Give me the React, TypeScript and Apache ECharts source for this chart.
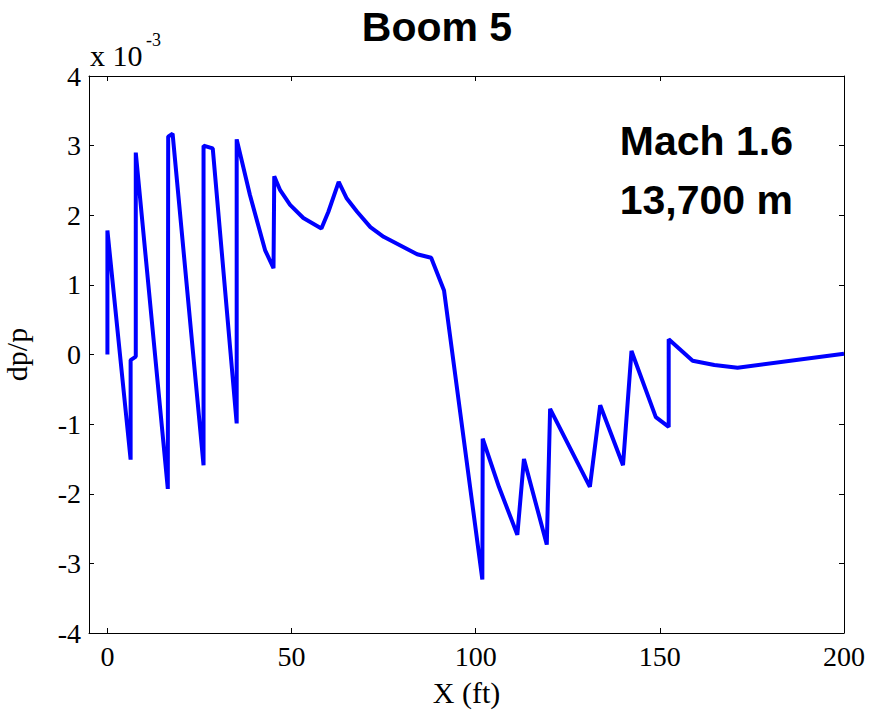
import React, { useEffect, useRef } from "react";
import * as echarts from "echarts";

// x position (ft) and dp/p (in units of 1e-3)
const xFt = [
  0, 0, 6.3, 6.3, 7.7, 7.7, 16.4, 16.5, 17.7, 26.1, 26.1, 28.6, 35.1, 35.1, 38.7, 42.8,
  45.1, 45.3, 46.9, 49.6, 53.2, 58.1, 60.0, 62.8, 65.0, 67.8, 71.4, 75.0, 84.1, 87.9,
  91.4, 101.8, 101.9, 106.3, 111.3, 113.1, 119.3, 120.2, 131.0, 133.8, 140.0, 142.3,
  148.9, 152.4, 152.4, 158.9, 164.8, 171.1, 200,
];
const dpp = [
  0, 1.78, -1.51, -0.08, -0.03, 2.9, -1.93, 3.13, 3.17, -1.59, 3.0, 2.96, -0.99, 3.09,
  2.29, 1.5, 1.24, 2.56, 2.36, 2.15, 1.96, 1.81, 2.05, 2.48, 2.24, 2.05, 1.83, 1.69, 1.44,
  1.39, 0.92, -3.23, -1.21, -1.9, -2.59, -1.5, -2.73, -0.78, -1.9, -0.73, -1.59, 0.05,
  -0.9, -1.04, 0.22, -0.09, -0.15, -0.19, 0.01,
];
const xTicks = [0, 50, 100, 150, 200];
const titleText = "Boom 5";
const noteLines = ["Mach 1.6", "13,700 m"];

const SERIF = "'Liberation Serif', 'Times New Roman', serif";
const SANS = "'Liberation Sans', Arial, sans-serif";

export default function App() {
  const ref = useRef<HTMLDivElement>(null);
  useEffect(() => {
    document.body.style.margin = "0";
    if (!ref.current) return;
    const chart = echarts.init(ref.current, undefined, { renderer: "svg" });
    const axisLine = { show: true, onZero: false, lineStyle: { color: "#000", width: 1 } };
    const tick = { show: true, inside: true, length: 5, lineStyle: { color: "#000", width: 1 } };
    const labelStyle = { color: "#000", fontSize: 28, fontFamily: SERIF };
    const nameStyle = { color: "#000", fontSize: 30, fontFamily: SERIF };
    chart.setOption({
      animation: false,
      backgroundColor: "#fff",
      grid: {
        left: 89,
        right: 30,
        top: 76,
        bottom: 80,
        containLabel: false,
        outerBoundsMode: "none",
      },
      xAxis: [
        {
          type: "value",
          min: -5,
          max: 200,
          position: "bottom",
          axisLine,
          axisTick: { ...tick, customValues: xTicks },
          axisLabel: { ...labelStyle, margin: 9, customValues: xTicks },
          splitLine: { show: false },
          name: "X (ft)",
          nameLocation: "middle",
          nameGap: 44,
          nameTextStyle: nameStyle,
        },
        {
          type: "value",
          min: -5,
          max: 200,
          position: "top",
          axisLine,
          axisTick: { ...tick, customValues: xTicks },
          axisLabel: { show: false },
          splitLine: { show: false },
        },
      ],
      yAxis: [
        {
          type: "value",
          min: -4,
          max: 4,
          interval: 1,
          position: "left",
          axisLine,
          axisTick: tick,
          axisLabel: { ...labelStyle, margin: 8 },
          splitLine: { show: false },
          name: "dp/p",
          nameLocation: "middle",
          nameGap: 58,
          nameRotate: 90,
          nameTextStyle: nameStyle,
        },
        {
          type: "value",
          min: -4,
          max: 4,
          interval: 1,
          position: "right",
          axisLine,
          axisTick: tick,
          axisLabel: { show: false },
          splitLine: { show: false },
        },
      ],
      series: [
        {
          type: "line",
          data: xFt.map((x, i) => [x, dpp[i]]),
          showSymbol: false,
          symbol: "none",
          lineStyle: { color: "#0000FF", width: 4 },
          clip: true,
        },
      ],
      graphic: [
        {
          type: "text",
          x: 437,
          y: 27,
          style: {
            text: titleText,
            fontSize: 41,
            fontWeight: "bold",
            fontFamily: SANS,
            fill: "#000",
            align: "center",
            verticalAlign: "middle",
          },
        },
        {
          type: "text",
          x: 90,
          y: 55,
          style: {
            text: "x 10",
            fontSize: 30,
            fontFamily: SERIF,
            fill: "#000",
            align: "left",
            verticalAlign: "middle",
          },
        },
        {
          type: "text",
          x: 146,
          y: 40,
          style: {
            text: "-3",
            fontSize: 18,
            fontFamily: SERIF,
            fill: "#000",
            align: "left",
            verticalAlign: "middle",
          },
        },
        ...noteLines.map((t, i) => ({
          type: "text",
          x: 793,
          y: 141 + i * 59,
          style: {
            text: t,
            fontSize: 41,
            fontWeight: "bold",
            fontFamily: SANS,
            fill: "#000",
            align: "right",
            verticalAlign: "middle",
          },
        })),
      ],
    });
    return () => chart.dispose();
  }, []);
  return <div ref={ref} style={{ width: 874, height: 713 }} />;
}
